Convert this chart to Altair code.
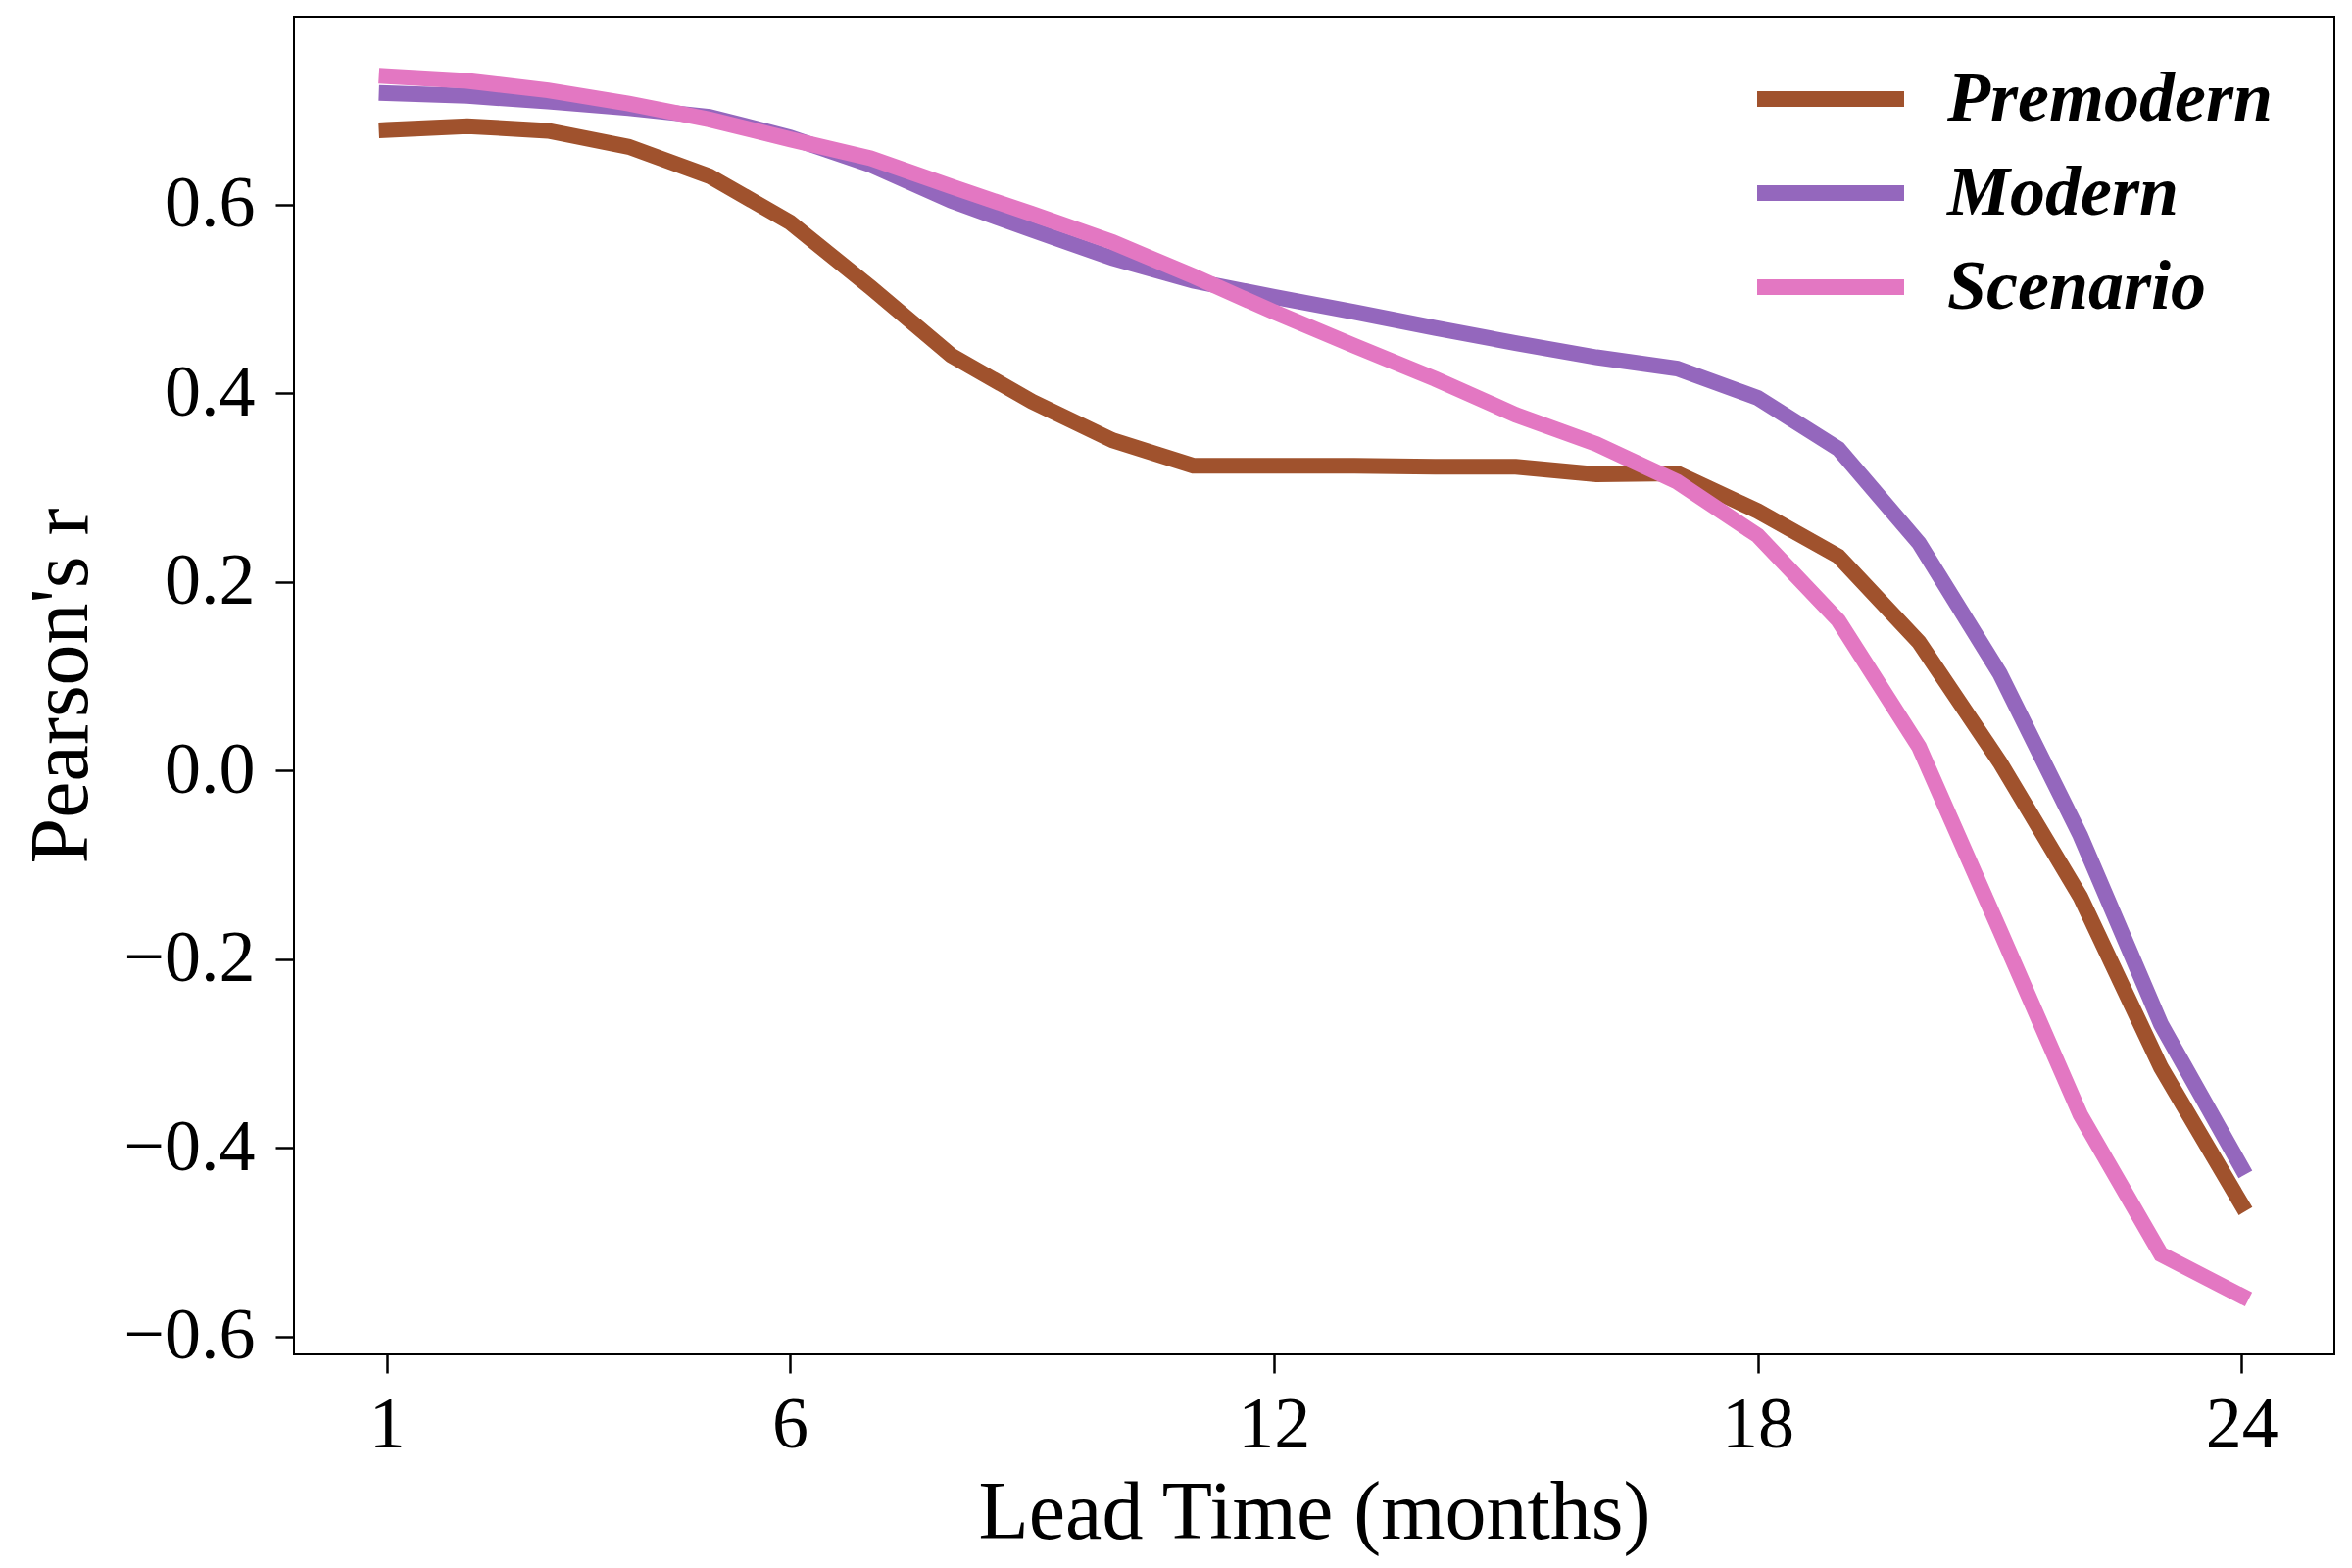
import altair as alt
import pandas as pd

months = list(range(1, 25))
premodern = [0.679, 0.683, 0.678, 0.661, 0.630, 0.581, 0.512, 0.440, 0.391, 0.350, 0.323, 0.323,
             0.323, 0.322, 0.322, 0.314, 0.315, 0.275, 0.227, 0.136, 0.009, -0.134, -0.315, -0.460]
modern = [0.718, 0.715, 0.709, 0.702, 0.693, 0.671, 0.642, 0.604, 0.573, 0.543, 0.519, 0.502,
          0.486, 0.469, 0.453, 0.438, 0.426, 0.395, 0.341, 0.241, 0.103, -0.069, -0.269, -0.421]
scenario = [0.736, 0.731, 0.721, 0.707, 0.690, 0.669, 0.649, 0.619, 0.590, 0.560, 0.524, 0.486,
            0.450, 0.415, 0.377, 0.346, 0.306, 0.249, 0.159, 0.025, -0.169, -0.365, -0.513, -0.557]

series_names = ["Premodern", "Modern", "Scenario"]
series_colors = ["#a0522d", "#9467bd", "#e377c2"]
x_ticks = [1, 6, 12, 18, 24]
y_ticks = [-0.6, -0.4, -0.2, 0.0, 0.2, 0.4, 0.6]

rows = []
for name, vals in zip(series_names, [premodern, modern, scenario]):
    for order, (m, v) in enumerate(zip(months, vals)):
        rows.append({"series": name, "month": m, "r": v, "order": order})
df = pd.DataFrame(rows)

FONT = "Liberation Serif"

chart = alt.Chart(df).mark_line(
    strokeWidth=16, strokeCap="square", strokeJoin="miter"
).encode(
    x=alt.X("month:Q",
            scale=alt.Scale(domain=[-0.15, 25.15], nice=False, zero=False),
            axis=alt.Axis(values=x_ticks, title="Lead Time (months)", grid=False,
                          domain=False, tickSize=19, tickWidth=2.5, tickColor="black",
                          labelFont=FONT, labelFontSize=74, labelColor="black",
                          labelPadding=17, titleFont=FONT, titleFontSize=84,
                          titleFontWeight="normal", titleColor="black", titlePadding=12,
                          labelFlush=False)),
    y=alt.Y("r:Q",
            scale=alt.Scale(domain=[-0.619, 0.799], nice=False, zero=False),
            axis=alt.Axis(values=y_ticks, format=".1f", title="Pearson's r", grid=False,
                          domain=False, tickSize=19, tickWidth=2.5, tickColor="black",
                          labelFont=FONT, labelFontSize=74, labelColor="black",
                          labelPadding=21, titleFont=FONT, titleFontSize=84,
                          titleFontWeight="normal", titleColor="black", titlePadding=19,
                          labelFlush=False)),
    color=alt.Color("series:N",
                    scale=alt.Scale(domain=series_names, range=series_colors),
                    sort=series_names,
                    legend=alt.Legend(title=None, orient="none", legendX=1485, legendY=49,
                                      symbolType="stroke", symbolSize=22500,
                                      symbolStrokeWidth=16, clipHeight=70, rowPadding=24,
                                      labelOffset=36, labelFont=FONT, labelFontSize=72,
                                      labelFontStyle="italic", labelFontWeight="bold",
                                      labelColor="black", padding=0, labelLimit=600)),
    order="order:Q",
).properties(
    width=2082,
    height=1365,
    padding={"left": 292, "top": 9, "right": 10, "bottom": 210},
    autosize=alt.AutoSizeParams(type="none"),
    background="white",
).configure_view(
    stroke="black", strokeWidth=2
)

chart.save("out.html", embed_options={"renderer": "svg", "actions": False})
